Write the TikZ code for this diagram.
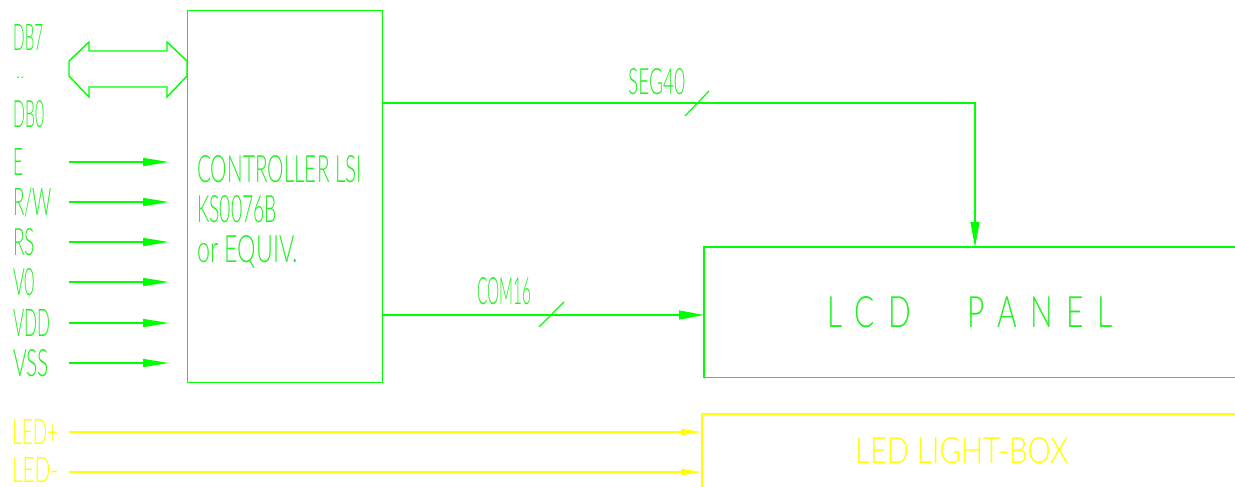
\documentclass[tikz,border=0pt]{standalone}
\usepackage{fontspec}
\usepackage{graphicx}
\IfFontExistsTF{Lato Light}{\newfontfamily\cadfont{Lato Light}}{%
 \IfFontExistsTF{Lato Thin}{\newfontfamily\cadfont{Lato Thin}}{%
   \newfontfamily\cadfont{Fira Sans}}}
\usetikzlibrary{arrows.meta}
\definecolor{cg}{HTML}{00FF00}
\definecolor{ctg}{HTML}{22F022}
\definecolor{cy}{HTML}{FFFF00}
\newcommand\fitt[3]{\resizebox{#1pt}{#2pt}{\cadfont #3}}
\tikzset{
  lbl/.style={inner sep=0pt, anchor=north west, text=ctg},
  ylbl/.style={lbl, text=cy},
  inarrow/.style={draw=cg, line width=1.6pt, -{Triangle[length=26pt,width=8pt]}},
  busline/.style={draw=cg, line width=1.2pt},
  busarrow/.style={busline, -{Triangle[length=25pt,width=9pt]}},
  ledarrow/.style={draw=cy, line width=2pt, -{Triangle[length=21pt,width=6pt]}},
  boxline/.style={draw=cg, line width=1.2pt},
  ledline/.style={draw=cy, line width=1.6pt},
}
\begin{document}
\begin{tikzpicture}[x=1pt,y=-1pt]
\fill[white] (0,0) rectangle (1235,487);
\useasboundingbox (0,0) rectangle (1235,487);

% controller
\node[boxline, minimum width=195pt, minimum height=372pt, anchor=north west, inner sep=0pt] (ctrl) at (187,10) {};
\node[lbl] (c1) at (197,155) {\fitt{165}{27}{CONTROLLER LSI}};
\node[lbl] (c2) at (197,195) {\fitt{80}{27}{KS0076B}};
\node[lbl] (c3) at (197,235) {\fitt{101}{27}{or EQUIV.}};

% data bus double arrow
\draw[cg, line width=1.4pt] (69,61) -- (89,42) -- (89,51) -- (167,51) -- (167,42) -- (187,61)
  -- (187,76) -- (167,97) -- (167,87) -- (89,87) -- (89,97) -- (69,76) -- cycle;
\node[lbl] (db7) at (13,24) {\fitt{30}{26}{DB7}};
\node[inner sep=0pt, anchor=base west, text=ctg, font=\cadfont\fontsize{18}{18}\selectfont] (dots) at (16,79) {..};
\node[lbl] (db0) at (13,100) {\fitt{31}{27}{DB0}};

% control inputs
\foreach \nm/\txt/\w/\y in {e/E/10/162, rw/R\smash{/}W/39/202, rs/RS/22/242, vo/V0/22/282, vdd/VDD/37/323, vss/VSS/36/363}{
  \node[lbl] (l\nm) at (13,\y-14) {\fitt{\w}{27}{\txt}};
  \coordinate (s\nm) at (69,\y);
  \coordinate (t\nm) at (169,\y);
  \draw[inarrow] (s\nm) -- (t\nm);
}

% LCD panel
\node[inner sep=0pt, minimum width=531pt, minimum height=130pt, anchor=north west, text=ctg] (lcd) at (704,247)
  {\resizebox{285pt}{31pt}{\cadfont\addfontfeature{LetterSpace=45}LCD\hspace{1.9em}PANEL}};
\draw[boxline] (lcd.north east) -- (lcd.north west) -- (lcd.south west) -- (lcd.south east);

% SEG40
\coordinate (segy) at (0,103);
\coordinate (segx) at (975,0);
\draw[busarrow] (ctrl.east |- segy) -| (lcd.north -| segx);
\node[lbl] (seg) at (628,68) {\fitt{57}{26}{SEG40}};
\coordinate (sega) at (685,116);
\coordinate (segb) at (709,91);
\draw[busline] (sega) -- (segb);

% COM16
\coordinate (comy) at (0,315);
\draw[busarrow] (ctrl.east |- comy) -- (lcd.west |- comy);
\node[lbl] (com) at (477,277) {\fitt{54}{27}{COM16}};
\coordinate (coma) at (539,327);
\coordinate (comb) at (564,302);
\draw[busline] (coma) -- (comb);

% LED light box
\node[inner sep=0pt, minimum width=533pt, minimum height=80pt, anchor=north west] (led) at (702,414) {};
\draw[ledline] (led.north east) -- (led.north west) -- (led.south west);
\node[ylbl] (ledt) at (855,437) {\fitt{213}{26}{LED LIGHT-BOX}};

\node[ylbl] (ledp) at (12,419) {\fitt{46}{25}{LED+}};
\node[ylbl] (ledm) at (12,457) {\fitt{46}{25}{LED-}};
\coordinate (sp) at (69,432);
\coordinate (sm) at (69,472);
\draw[ledarrow] (sp) -- (led.west |- sp);
\draw[ledarrow] (sm) -- (led.west |- sm);
\end{tikzpicture}
\end{document}
